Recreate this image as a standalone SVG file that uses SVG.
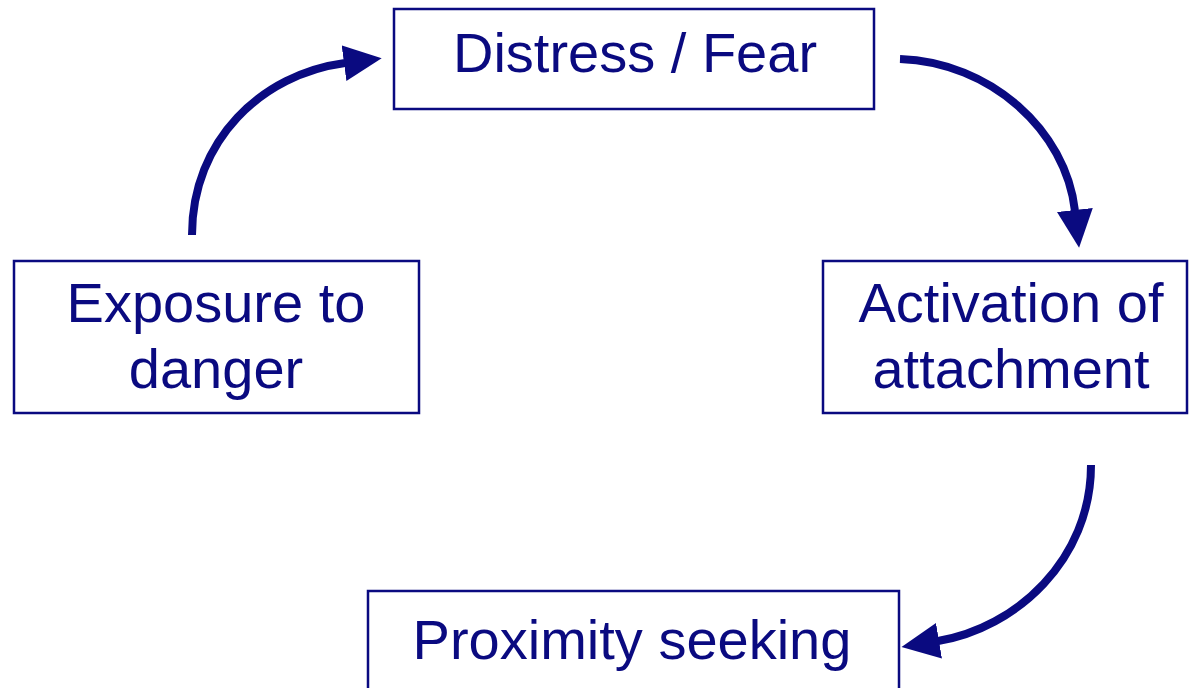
<svg xmlns="http://www.w3.org/2000/svg" width="1189" height="688" viewBox="0 0 1189 688">
  <style>
    .box { fill: #ffffff; stroke: #0a0a80; stroke-width: 2.5; }
    .label { font-family: "Liberation Sans", Arial, sans-serif; font-size: 56px; fill: #0a0a80; text-anchor: middle; }
    .flow { fill: none; stroke: #0a0a80; stroke-width: 8; marker-end: url(#head); }
  </style>
  <defs>
    <marker id="head" markerUnits="userSpaceOnUse" markerWidth="40" markerHeight="38" refX="1" refY="18" orient="auto" viewBox="0 0 40 36">
      <path d="M0,0 L38,18 L0,36 Z" fill="#0a0a80"/>
    </marker>
  </defs>
  <rect width="1189" height="688" fill="#ffffff"/>

  <g id="connectors">
    <path class="flow" d="M192,235 C192,140 262,74 345,63"/>
    <path class="flow" d="M900,59 C990,62 1066,130 1075,211"/>
    <path class="flow" d="M1091,465 C1091,560 1016,628 938,641"/>
  </g>

  <g id="node-distress">
    <rect class="box" x="394" y="9" width="480" height="100"/>
    <text class="label" x="635" y="72">Distress / Fear</text>
  </g>

  <g id="node-exposure">
    <rect class="box" x="14" y="261" width="405" height="152"/>
    <text class="label" x="216" y="322">Exposure to</text>
    <text class="label" x="216" y="388">danger</text>
  </g>

  <g id="node-activation">
    <rect class="box" x="823" y="261" width="364" height="152"/>
    <text class="label" x="1011" y="322">Activation of</text>
    <text class="label" x="1011" y="388">attachment</text>
  </g>

  <g id="node-proximity">
    <rect class="box" x="368" y="591" width="531" height="110"/>
    <text class="label" x="632" y="659">Proximity seeking</text>
  </g>
</svg>
